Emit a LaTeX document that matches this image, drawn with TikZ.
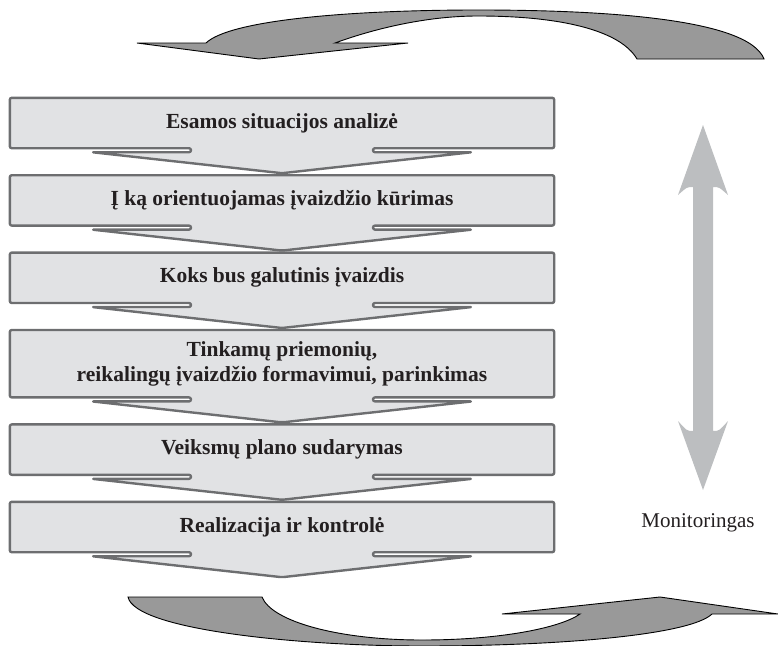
\documentclass[tikz,border=0pt]{standalone}
\usepackage{fontspec}
\setmainfont{Liberation Serif}
\usetikzlibrary{positioning,backgrounds,calc}

\definecolor{boxfill}{HTML}{E1E2E4}
\definecolor{boxline}{HTML}{6D6E70}
\definecolor{bendgray}{HTML}{999999}
\definecolor{monigray}{HTML}{BCBEC0}
\definecolor{inktext}{HTML}{231F20}

\tikzset{
  stage/.style={minimum width=544pt, minimum height=50pt, inner sep=0pt,
    align=center, text=inktext, font=\fontsize{21.5}{25}\selectfont\bfseries},
  stageline/.style={draw=boxline, fill=boxfill, line width=2.4pt,
    rounded corners=2pt, line join=round},
  loopshape/.style={draw=black, fill=bendgray, line width=0.9pt, line join=miter}
}

% box with its chevron below
\newcommand{\stageframe}[1]{%
  \draw[stageline] (#1.north west) -- (#1.north east) -- (#1.south east)
    -- ([xshift=91pt]#1.south) -- ([xshift=91pt,yshift=-4pt]#1.south)
    -- ([xshift=190pt,yshift=-4pt]#1.south) -- ([yshift=-25pt]#1.south)
    -- ([xshift=-190pt,yshift=-4pt]#1.south) -- ([xshift=-91pt,yshift=-4pt]#1.south)
    -- ([xshift=-91pt]#1.south) -- (#1.south west) -- cycle;}

\begin{document}
\begin{tikzpicture}[x=1pt, y=-1pt]
    \useasboundingbox (0,0) rectangle (778,645);

    % stages
    \node[stage] (s1) at (282,123) {Esamos situacijos analizė};
    \node[stage, below=27pt of s1] (s2) {Į ką orientuojamas įvaizdžio kūrimas};
    \node[stage, below=27pt of s2] (s3) {Koks bus galutinis įvaizdis};
    \node[stage, below=27pt of s3, minimum height=67pt] (s4)
        {Tinkamų priemonių,\\reikalingų įvaizdžio formavimui, parinkimas};
    \node[stage, below=27pt of s4] (s5) {Veiksmų plano sudarymas};
    \node[stage, below=27pt of s5] (s6) {Realizacija ir kontrolė};

    \begin{scope}[on background layer]
        \foreach \s in {s1,s2,s3,s4,s5,s6} {\stageframe{\s}}
    \end{scope}

    % monitoring
    \coordinate (mtop) at (703,125);
    \coordinate (mbot) at (703,490);
    \fill[monigray] (mtop) -- ($(mtop)+(25,70)$) .. controls ($(mtop)+(16,62)$) .. ($(mtop)+(10,62)$)
        -- ($(mbot)+(10,-59)$) .. controls ($(mbot)+(16,-59)$) .. ($(mbot)+(25,-69)$)
        -- (mbot) -- ($(mbot)+(-25,-69)$) .. controls ($(mbot)+(-16,-59)$) .. ($(mbot)+(-10,-59)$)
        -- ($(mtop)+(-10,62)$) .. controls ($(mtop)+(-16,62)$) .. ($(mtop)+(-25,70)$) -- cycle;
    \node[text=inktext, font=\fontsize{21}{25}\selectfont] (moni) at (698,523) {Monitoringas};

    % top curved arrow
    \draw[loopshape] (764,59) .. controls (748,18) and (600,10) .. (478,10)
        .. controls (350,10) and (230,20) .. (206,43)
        -- (137,43) -- (259,59) -- (408,43) -- (335,43)
        .. controls (365,32) and (420,16) .. (478,16)
        .. controls (560,16) and (620,30) .. (637,59) -- cycle;

    % bottom curved arrow
    \draw[loopshape] (128,597) .. controls (135,630) and (300,646) .. (422,646)
        .. controls (560,646) and (690,635) .. (712,614)
        -- (778,614) -- (660,597) -- (502,614) -- (580,614)
        .. controls (560,628) and (500,640) .. (422,640)
        .. controls (340,640) and (272,622) .. (262,597) -- cycle;
\end{tikzpicture}
\end{document}
